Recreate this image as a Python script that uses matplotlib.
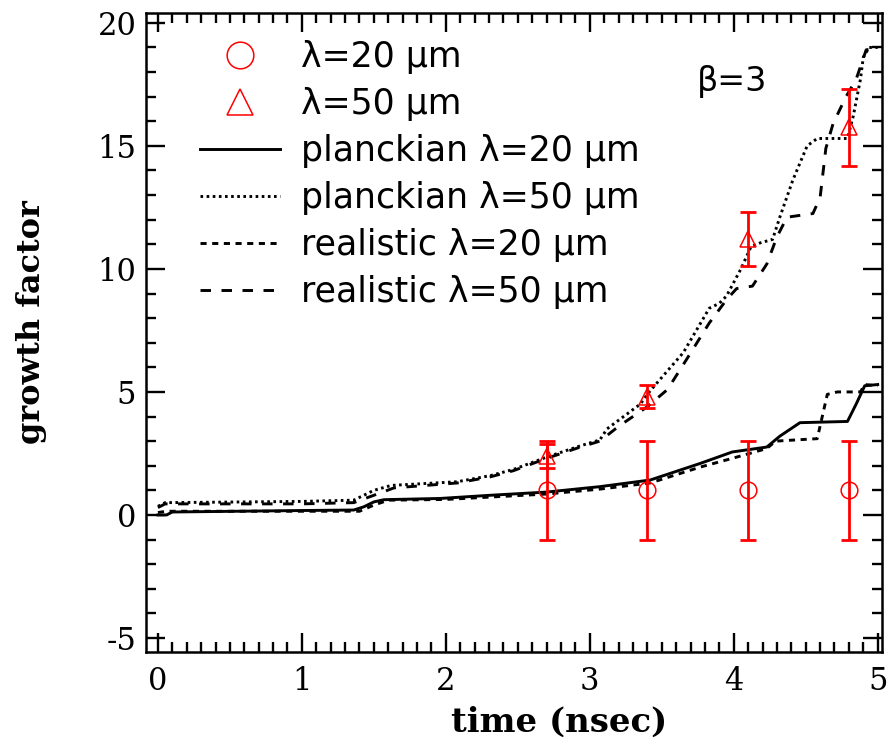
import matplotlib
matplotlib.use("Agg")
import matplotlib.pyplot as plt
from matplotlib.ticker import MultipleLocator

plt.rcParams['axes.unicode_minus'] = False

# measured points (nsec, growth factor)
err_x = [2.7, 3.4, 4.1, 4.8]
circ_y = [1.0, 1.0, 1.0, 1.0]
circ_err = [2.0, 2.0, 2.0, 2.0]
tri_y = [2.4, 4.8, 11.2, 15.75]
tri_err = [0.5, 0.47, 1.1, 1.55]

# simulated curves
planck20_x = [0, 0.06, 0.1, 1.0, 1.36, 1.43, 1.5, 1.57, 1.96, 2.31, 2.7, 3.07, 3.42,
              3.77, 3.99, 4.23, 4.32, 4.46, 4.79, 4.85, 4.91, 5.0]
planck20_y = [0.0, 0.0, 0.12, 0.18, 0.2, 0.33, 0.53, 0.62, 0.67, 0.8, 0.93, 1.15, 1.42,
              2.1, 2.56, 2.76, 3.2, 3.75, 3.8, 4.5, 5.25, 5.3]

real20_x = [0, 0.06, 1.0, 1.4, 1.5, 1.6, 2.0, 2.7, 3.07, 3.42, 3.77, 3.99, 4.23, 4.29,
            4.58, 4.65, 4.72, 4.88, 4.91, 5.0]
real20_y = [0.1, 0.15, 0.15, 0.15, 0.4, 0.6, 0.63, 0.85, 1.05, 1.3, 1.95, 2.3, 2.7, 3.0,
            3.1, 4.9, 5.0, 5.0, 5.3, 5.25]

planck50_x = [0, 0.05, 1.0, 1.36, 1.5, 1.62, 2.08, 2.31, 2.47, 2.7, 2.93, 3.07, 3.12,
              3.35, 3.42, 3.65, 3.83, 3.9, 3.95, 4.05, 4.12, 4.18, 4.27, 4.32, 4.41,
              4.51, 4.58, 4.79, 4.83, 4.88, 4.9, 4.94, 5.0]
planck50_y = [0.35, 0.5, 0.55, 0.6, 1.0, 1.2, 1.35, 1.6, 1.85, 2.35, 2.8, 3.05, 3.5,
              4.5, 5.05, 6.6, 8.4, 8.6, 8.9, 10.0, 10.9, 11.05, 11.2, 12.1, 13.6,
              15.0, 15.3, 15.3, 16.2, 17.7, 18.6, 19.0, 19.0]

real50_x = [0, 0.05, 1.0, 1.36, 1.5, 1.64, 2.08, 2.31, 2.47, 2.7, 2.93, 3.07, 3.2, 3.4,
            3.54, 3.67, 3.83, 3.95, 4.02, 4.13, 4.23, 4.3, 4.37, 4.55, 4.6, 4.64, 4.69,
            4.78, 4.85, 4.92, 5.0]
real50_y = [0.3, 0.45, 0.45, 0.5, 0.8, 1.1, 1.3, 1.55, 1.8, 2.3, 2.75, 3.0, 3.6, 4.4,
            5.1, 6.3, 7.8, 8.75, 9.2, 9.3, 10.2, 11.3, 12.1, 12.25, 12.9, 14.9, 15.9,
            17.0, 17.7, 18.9, 19.0]

red = '#ff0000'

fig = plt.figure(figsize=(8.88, 7.47), dpi=100)
ax = fig.add_axes([146/888, 1-652/747, 736/888, 639/747])

lw = 2.1
l1, = ax.plot(planck20_x, planck20_y, color='k', lw=lw, linestyle='-',
              label='planckian λ=20 μm')
l2, = ax.plot(planck50_x, planck50_y, color='k', lw=lw, linestyle=(0, (0.9, 1.2)),
              label='planckian λ=50 μm')
l3, = ax.plot(real20_x, real20_y, color='k', lw=lw, linestyle=(0, (2.1, 1.9)),
              label='realistic λ=20 μm')
l4, = ax.plot(real50_x, real50_y, color='k', lw=lw, linestyle=(0, (3.6, 3.6)),
              label='realistic λ=50 μm')

ax.errorbar(err_x, circ_y, yerr=circ_err, fmt='none', ecolor=red, elinewidth=2,
            capsize=6, capthick=2, zorder=4)
ax.errorbar(err_x, tri_y, yerr=tri_err, fmt='none', ecolor=red, elinewidth=2,
            capsize=6, capthick=2, zorder=4)
m1, = ax.plot(err_x, circ_y, 'o', ms=12, mfc='none', mec=red, mew=1.1, zorder=5,
              label='λ=20 μm')
m2, = ax.plot(err_x, tri_y, '^', ms=12, mfc='none', mec=red, mew=1.1, zorder=5,
              label='λ=50 μm')

leg = ax.legend(handles=[m1, m2, l1, l2, l3, l4], loc='upper left',
                bbox_to_anchor=(0.0734, 0.957), frameon=False, borderpad=0,
                borderaxespad=0, handlelength=2.3, handletextpad=0.6,
                labelspacing=0.37, markerscale=1.6,
                prop={'family': 'DejaVu Sans', 'size': 25})

ax.text(3.99, 17.6, 'β=3', ha='center', va='center', fontsize=24,
        family='DejaVu Sans')

ax.set_xlim(-0.083, 5.03)
ax.set_ylim(-5.57, 20.4)
ax.xaxis.set_major_locator(MultipleLocator(1))
ax.xaxis.set_minor_locator(MultipleLocator(0.1))
ax.yaxis.set_major_locator(MultipleLocator(5))
ax.yaxis.set_minor_locator(MultipleLocator(1))

ax.tick_params(which='both', direction='in', top=True, right=True, width=1.7)
ax.tick_params(which='major', length=13.5)
ax.tick_params(which='minor', length=7)
ax.tick_params(axis='x', pad=10)
ax.tick_params(axis='y', pad=7)
for lab in ax.get_xticklabels() + ax.get_yticklabels():
    lab.set_family('DejaVu Serif')
    lab.set_fontsize(22)
for s in ax.spines.values():
    s.set_linewidth(1.8)

ax.set_xlabel('time (nsec)', family='DejaVu Serif', fontweight='bold', fontsize=24.5,
              va='center')
ax.set_ylabel('growth factor', family='DejaVu Serif', fontweight='bold', fontsize=23,
              va='center')
ax.xaxis.set_label_coords(0.561, -0.11)
ax.yaxis.set_label_coords(-0.155, 0.516)

fig.savefig('out.png', dpi=100)
